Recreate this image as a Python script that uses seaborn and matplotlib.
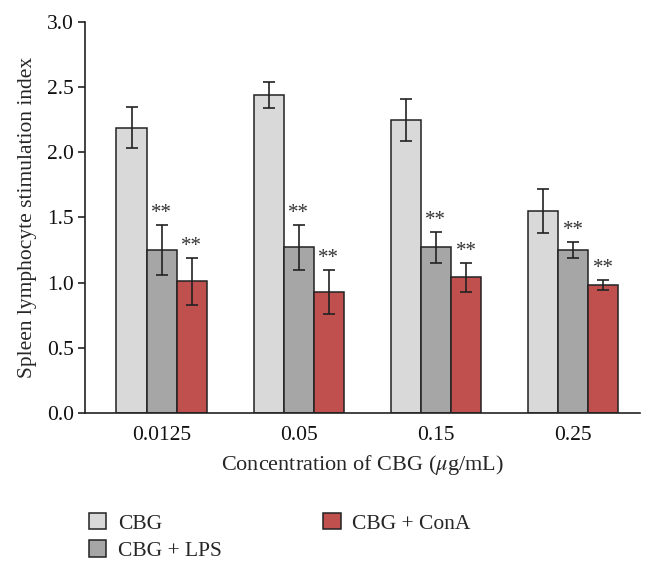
import numpy as np
import pandas as pd
import seaborn as sns
import matplotlib.pyplot as plt

concentrations = ['0.0125', '0.05', '0.15', '0.25']
groups = ['CBG', 'CBG + LPS', 'CBG + ConA']
cbg = [2.19, 2.44, 2.25, 1.55]
cbg_err = [0.16, 0.10, 0.16, 0.17]
cbg_lps = [1.25, 1.27, 1.27, 1.25]
cbg_lps_err = [0.19, 0.17, 0.12, 0.06]
cbg_cona = [1.01, 0.93, 1.04, 0.98]
cbg_cona_err = [0.18, 0.17, 0.11, 0.04]
colors = ['#d9d9d9', '#a6a6a6', '#c0504d']

df = pd.DataFrame({
    'conc': concentrations * 3,
    'group': np.repeat(groups, 4),
    'value': cbg + cbg_lps + cbg_cona,
    'err': cbg_err + cbg_lps_err + cbg_cona_err,
})

sns.set_style('white')
plt.rcParams['font.family'] = ['Liberation Serif', 'DejaVu Serif']
plt.rcParams['mathtext.fontset'] = 'stix'

fig = plt.figure(figsize=(6.48, 5.7), dpi=100)
ax = fig.add_axes([0.131, 0.276, 0.857, 0.685])

sns.barplot(data=df, x='conc', y='value', hue='group', order=concentrations,
            hue_order=groups, palette=colors, errorbar=None, width=0.66,
            edgecolor='#222222', linewidth=1.1, saturation=1, ax=ax)

# error bars and significance stars
for gi, g in enumerate(groups):
    sub = df[df['group'] == g].set_index('conc').loc[concentrations]
    bars = ax.containers[gi]
    for bar, (v, e) in zip(bars, zip(sub['value'], sub['err'])):
        cx = bar.get_x() + bar.get_width() / 2
        ax.errorbar(cx, v, yerr=e, color='#222222', capsize=4, elinewidth=1.2,
                    capthick=1.2)
        if gi > 0:
            ax.text(cx, v + e + 0.015, '**', ha='center', va='bottom',
                    fontsize=15, color='#333333')

ax.set_ylim(0, 3.0)
ax.set_yticks(np.arange(0, 3.01, 0.5))
ax.set_yticklabels([f'{t:.1f}' for t in np.arange(0, 3.01, 0.5)])
ax.set_xlim(-0.56, 3.49)
sns.despine(ax=ax)
for s in ['left', 'bottom']:
    ax.spines[s].set_color('#222222')
    ax.spines[s].set_linewidth(1.2)
ax.tick_params(axis='y', left=True, length=5, width=1.2, color='#222222',
               labelsize=15.5, pad=3, labelcolor='#111111')
ax.tick_params(axis='x', bottom=False, labelsize=15.5, pad=6,
               labelcolor='#111111')
ax.set_xlabel('Concentration of CBG ($\\mu$g/mL)', fontsize=16, labelpad=6)
ax.set_ylabel('Spleen lymphocyte stimulation index', fontsize=15.5, labelpad=7)

handles, labels = ax.get_legend_handles_labels()
ax.legend(handles, labels, ncol=2, frameon=False, fontsize=15.5,
          loc='upper left', bbox_to_anchor=(-0.027, -0.207),
          handlelength=0.8, handleheight=0.8, columnspacing=4.7,
          labelspacing=0.3, handletextpad=0.55)

fig.savefig('out.png', dpi=100)
